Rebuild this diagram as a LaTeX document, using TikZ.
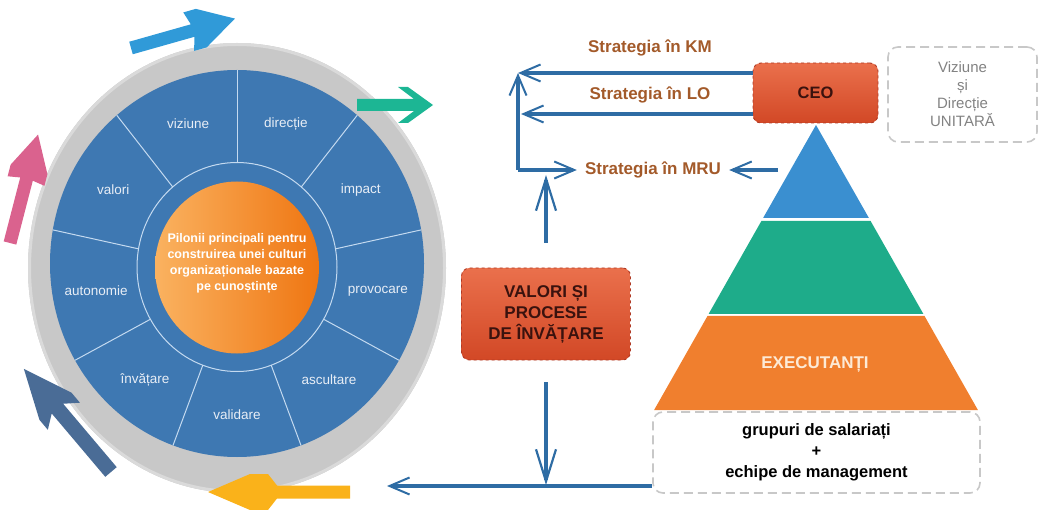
\documentclass[tikz,border=0pt]{standalone}
\usepackage{fontspec}
\setmainfont{Liberation Sans}
\usetikzlibrary{arrows.meta}

\definecolor{ringgray}{RGB}{200,200,200}
\definecolor{ringrim}{RGB}{218,218,218}
\definecolor{wheelblue}{RGB}{62,120,178}
\definecolor{spokeblue}{RGB}{196,218,240}
\definecolor{wheeltext}{RGB}{232,238,246}
\definecolor{coreleft}{RGB}{250,178,96}
\definecolor{coreright}{RGB}{239,118,18}
\definecolor{arrblue}{RGB}{48,154,216}
\definecolor{arrgreen}{RGB}{28,182,148}
\definecolor{arrpink}{RGB}{218,98,142}
\definecolor{arrslate}{RGB}{74,108,150}
\definecolor{arryellow}{RGB}{250,178,26}
\definecolor{connblue}{RGB}{46,108,164}
\definecolor{stratbrown}{RGB}{163,90,42}
\definecolor{redtop}{RGB}{234,112,76}
\definecolor{redbottom}{RGB}{210,72,38}
\definecolor{redborder}{RGB}{176,58,36}
\definecolor{redtext}{RGB}{58,18,14}
\definecolor{dashgray}{RGB}{200,200,200}
\definecolor{visiontext}{RGB}{130,130,130}
\definecolor{pyrblue}{RGB}{58,143,208}
\definecolor{pyrgreen}{RGB}{30,172,138}
\definecolor{pyrorange}{RGB}{240,127,46}
\definecolor{exectext}{RGB}{253,234,214}

% outline of a thick block arrow pointing along +x, tail at the origin:
% length, shaft half width, head length, head half width,
% flat width of the wing ends, offset of the notch behind the wing ends
\newcommand\arrowoutline[6]{%
  (0,-#2) -- ({#1-#3+#6},-#2) -- ({#1-#3},-#4) -- ({#1-#3+#5},-#4) -- (#1,0)
  -- ({#1-#3+#5},#4) -- ({#1-#3},#4) -- ({#1-#3+#6},#2) -- (0,#2) -- cycle}

\tikzset{
  smallbarb/.tip={Straight Barb[length=20pt,width=17pt,line width=2pt]},
  bigbarb/.tip={Straight Barb[length=32pt,width=20pt,line width=2.2pt]},
}

\begin{document}
\begin{tikzpicture}[x=1pt,y=1pt,
  spoke/.style={draw=spokeblue,line width=1pt},
  wheellabel/.style={text=wheeltext,font=\fontsize{13.5}{16}\selectfont,inner sep=0pt},
  corelabel/.style={text=white,align=center,font=\fontsize{12.5}{16}\selectfont\bfseries,inner sep=0pt},
  redbox/.style={rounded corners=8pt,top color=redtop,bottom color=redbottom,
    draw=redborder,dashed,line width=0.9pt,text=redtext,align=center},
  graybox/.style={rounded corners=10pt,draw=dashgray,dashed,line width=1.6pt,
    dash pattern=on 9pt off 5pt,align=center},
  strat/.style={text=stratbrown,font=\fontsize{17}{20}\selectfont\bfseries,inner xsep=8pt},
  conn/.style={draw=connblue,line width=3.5pt},
  bigconn/.style={draw=connblue,line width=4pt},
]
\useasboundingbox (0,0) rectangle (1038,-510);
\clip (0,0) rectangle (1038,-510);

% ---------------- wheel of pillars ----------------
\fill[ringgray] (237,-268) ellipse [x radius=209, y radius=225];
\draw[ringrim,line width=3pt] (237,-268) ellipse [x radius=207.5, y radius=223.5];
\fill[wheelblue] (237,-263.5) ellipse [x radius=187, y radius=193.5];
\foreach \a in {90,50,10,-30,-70,-110,-150,-190,-230}
  \draw[spoke] ({237+100*cos(\a)},{-267+104.5*sin(\a)})
            -- ({237+187*cos(\a)},{-263.5+193.5*sin(\a)});
\draw[spoke] (237,-267) ellipse [x radius=100, y radius=104.5];
\shade[left color=coreleft,right color=coreright]
  (237,-267.5) ellipse [x radius=82, y radius=86];

\foreach \a/\t [count=\i] in {110/viziune,70/direcție,30/impact,-10/provocare,
    -50/ascultare,-90/validare,-130/învățare,190/autonomie,150/valori}
  \node[wheellabel] (seg\i) at ({237+143*cos(\a)},{-265+150*sin(\a)}) {\t};

\node[corelabel] (core) at (237,-263)
  {Pilonii principali pentru\\construirea unei culturi\\organizaționale bazate\\pe cunoștințe};

% ---------------- block arrows around the wheel ----------------
\fill[arrblue,shift={(131,-48)},rotate=15.8]   \arrowoutline{108}{6.5}{48}{20}{13}{4};
\fill[arrgreen,shift={(357,-105)},rotate=0]    \arrowoutline{76}{6}{35}{18}{10}{16};
\fill[arrpink,shift={(10,-243)},rotate=75.5]   \arrowoutline{112}{6.5}{48}{19}{12}{2};
\fill[arrslate,shift={(111,-472)},rotate=130.2]\arrowoutline{135}{7.5}{62}{21}{13}{10};
\fill[arryellow,shift={(350,-492)},rotate=180] \arrowoutline{142}{6.5}{60}{18}{18}{-9};

% ---------------- pyramid ----------------
\fill[pyrblue]   (816,-125) -- (868.9,-218) -- (763.1,-218) -- cycle;
\fill[pyrgreen]  (761.4,-221) -- (870.6,-221) -- (923.4,-314) -- (708.6,-314) -- cycle;
\fill[pyrorange] (707.5,-316) -- (924.5,-316) -- (977.9,-410) -- (654.1,-410) -- cycle;
\node[text=exectext,font=\fontsize{17}{20}\selectfont\bfseries] (exec) at (815,-364) {EXECUTANȚI};

% ---------------- boxes ----------------
\node[redbox,minimum width=125pt,minimum height=60pt,
      font=\fontsize{16.5}{20}\selectfont\bfseries] (ceo) at (815.5,-93) {CEO};
\node[graybox,minimum width=149pt,minimum height=95pt,text=visiontext,
      font=\fontsize{15}{18}\selectfont] (vision) at (962.5,-94.5)
  {Viziune\\și\\Direcție\\UNITARĂ};
\node[redbox,minimum width=169pt,minimum height=92pt,
      font=\fontsize{17}{21}\selectfont\bfseries] (values) at (546,-314)
  {VALORI ȘI\\PROCESE\\DE ÎNVĂȚARE};
\node[graybox,fill=white,minimum width=327pt,minimum height=81pt,
      font=\fontsize{16.5}{21}\selectfont\bfseries] (team) at (816.5,-452.5)
  {grupuri de salariați\\+\\echipe de management};

% ---------------- strategy labels ----------------
\node[strat] (km)  at (650,-48)  {Strategia în KM};
\node[strat] (lo)  at (650,-95)  {Strategia în LO};
\node[strat] (mru) at (653,-170) {Strategia în MRU};

% ---------------- connectors ----------------
\coordinate (km-end) at (518,-73);
\coordinate (lo-end) at (521,-114);
\coordinate (elbow)  at (518,-170);
\coordinate (pyr-left) at (778,-170);
\coordinate (mru-up) at (546,-175);
\coordinate (base)   at (546,-485);
\coordinate (wheel-in) at (387,-486);

\draw[conn,-{smallbarb}] (ceo.west |- km-end) -- (km-end);
\draw[conn,-{smallbarb}] (ceo.west |- lo-end) -- (lo-end);
\draw[conn,-{smallbarb}] (elbow) -- (km-end);
\draw[conn,-{smallbarb}] (elbow) -- (mru.west);
\draw[conn,-{smallbarb}] (pyr-left) -- (mru.east);
\draw[bigconn,-{bigbarb},shorten <=25pt] (values.north) -- (mru-up);
\draw[bigconn,-{bigbarb},shorten <=22pt] (values.south) -- (base);
\draw[conn,-{smallbarb}] (team.west |- wheel-in) -- (wheel-in);
\end{tikzpicture}
\end{document}
